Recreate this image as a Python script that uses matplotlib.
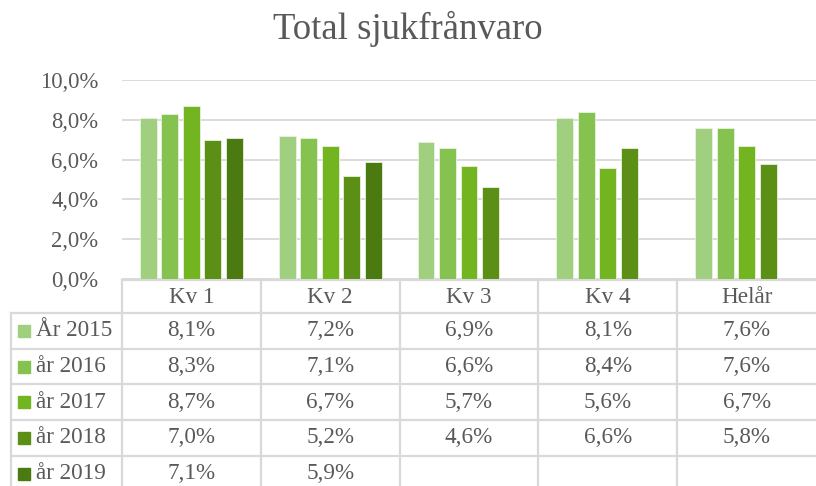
import matplotlib.pyplot as plt
import matplotlib.transforms as mtransforms
from matplotlib.patches import Rectangle
import numpy as np

plt.rcParams['font.family'] = ['Liberation Serif', 'DejaVu Serif']

categories = ['Kv 1', 'Kv 2', 'Kv 3', 'Kv 4', 'Helår']
series_names = ['År 2015', 'år 2016', 'år 2017', 'år 2018', 'år 2019']
v2015 = [8.1, 7.2, 6.9, 8.1, 7.6]
v2016 = [8.3, 7.1, 6.6, 8.4, 7.6]
v2017 = [8.7, 6.7, 5.7, 5.6, 6.7]
v2018 = [7.0, 5.2, 4.6, 6.6, 5.8]
v2019 = [7.1, 5.9, None, None, None]
series = [v2015, v2016, v2017, v2018, v2019]
colors = ['#a0cf80', '#86c250', '#72b521', '#5b8f16', '#4b7a10']
yticks = [0, 2, 4, 6, 8, 10]

W, H = 816, 486
txt = '#595959'
grid = '#d9d9d9'

fig = plt.figure(figsize=(W / 100, H / 100), dpi=100)
ax = fig.add_axes([122 / W, 1 - 279 / H, 1 - 122 / W, (279 - 80) / H])

x = np.arange(len(categories))
step, bw = 0.155, 0.122
for j, vals in enumerate(series):
    for i, v in enumerate(vals):
        if v is None:
            continue
        ax.bar(x[i] + (j - 2) * step, v, width=bw, color=colors[j],
               edgecolor='#e8f2e0', linewidth=0.6, zorder=3)

ax.set_xlim(-0.5, len(categories) - 0.5)
ax.set_ylim(0, 10)
ax.set_yticks(yticks)
ax.set_yticklabels([f'{t:.1f}%'.replace('.', ',') for t in yticks],
                   fontsize=16.3, color=txt)
ax.tick_params(axis='y', length=0, pad=17)
ax.set_xticks([])
ax.grid(axis='y', color=grid, linewidth=1.3, zorder=0)
for s in ax.spines.values():
    s.set_visible(False)

fig.text(0.5, 1 - 39 / H, 'Total sjukfrånvaro', ha='center', va='baseline',
         fontsize=26.5, color=txt)

# data table under the chart
tr = mtransforms.blended_transform_factory(ax.transData, fig.transFigure)
def fy(px):
    return 1 - px / H

left_x = -0.5 - (122 - 11) / 139.0
header_top, header_bot = 280, 313
row_h = 35.7
n_rows = len(series)
rows_bottom = header_bot + row_h * n_rows
fs = 16.7

lw = 1.6
# horizontal lines
ax.plot([-0.5, 4.5], [fy(header_top)] * 2, color=grid, lw=lw, transform=tr, clip_on=False)
for r in range(n_rows + 1):
    yy = fy(header_bot + r * row_h)
    ax.plot([left_x, 4.5], [yy, yy], color=grid, lw=lw, transform=tr, clip_on=False)
# vertical lines
for i in range(len(categories)):
    ax.plot([i - 0.5, i - 0.5], [fy(header_top), fy(rows_bottom)], color=grid, lw=lw,
            transform=tr, clip_on=False)
ax.plot([left_x, left_x], [fy(header_bot), fy(rows_bottom)], color=grid, lw=lw,
        transform=tr, clip_on=False)

for i, c in enumerate(categories):
    ax.text(i, fy((header_top + header_bot) / 2 + 1), c, ha='center', va='center',
            fontsize=fs, color=txt, transform=tr, clip_on=False)

for j, vals in enumerate(series):
    yc = fy(header_bot + (j + 0.5) * row_h)
    for i, v in enumerate(vals):
        if v is None:
            continue
        ax.text(i, yc, f'{v:.1f}%'.replace('.', ','), ha='center', va='center',
                fontsize=fs, color=txt, transform=tr, clip_on=False)
    fig.patches.append(Rectangle((18 / W, yc - 6 / H), 12 / W, 12 / H,
                                 color=colors[j], transform=fig.transFigure))
    fig.text(36 / W, yc, series_names[j], ha='left', va='center',
             fontsize=fs, color=txt)

fig.savefig('out.png', dpi=100)
